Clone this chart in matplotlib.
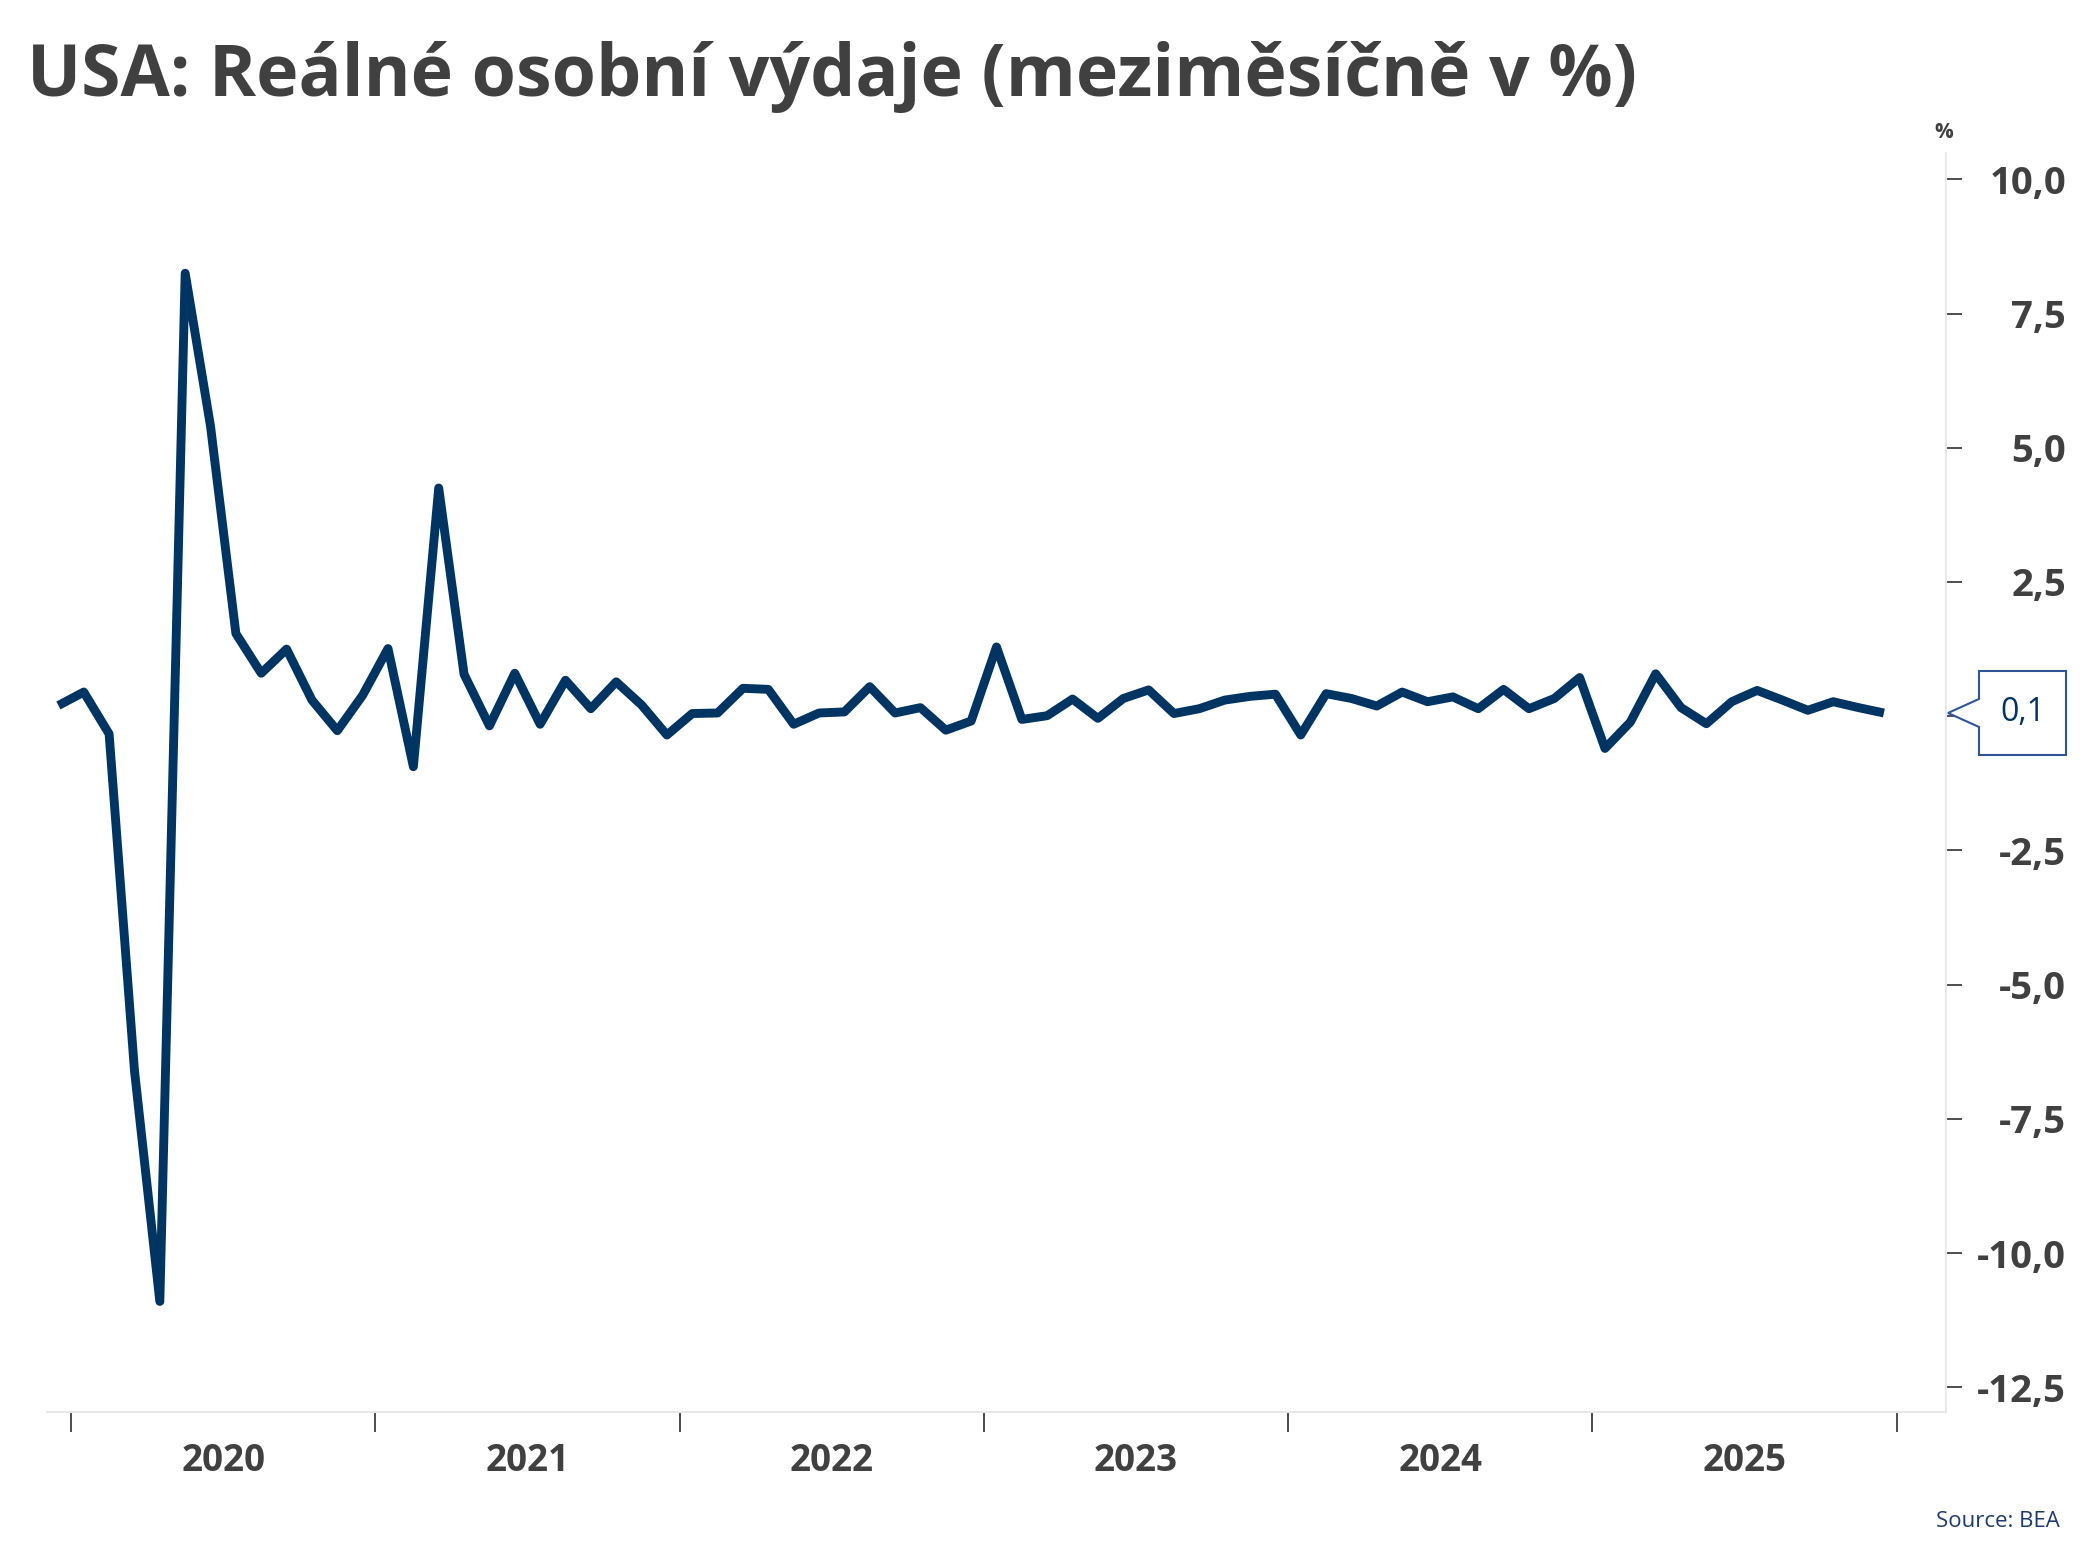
import numpy as np
import matplotlib.pyplot as plt
from matplotlib.patches import Polygon
from matplotlib.transforms import IdentityTransform
from matplotlib.ticker import FixedLocator, FuncFormatter

# monthly change of real personal spending, Dec 2019 .. Dec 2025 (%)
dec_2019 = [0.2]
y2020 = [0.45, -0.33, -6.6, -10.9, 8.25, 5.4, 1.54, 0.80, 1.25, 0.30, -0.27, 0.39]
y2021 = [1.26, -0.94, 4.25, 0.78, -0.18, 0.80, -0.15, 0.67, 0.14, 0.64, 0.21, -0.35]
y2022 = [0.05, 0.06, 0.52, 0.50, -0.15, 0.06, 0.08, 0.55, 0.06, 0.16, -0.26, -0.09]
y2023 = [1.29, -0.06, 0.01, 0.32, -0.04, 0.33, 0.49, 0.05, 0.14, 0.30, 0.37, 0.41]
y2024 = [-0.35, 0.42, 0.33, 0.19, 0.45, 0.27, 0.36, 0.14, 0.50, 0.14, 0.33, 0.72]
y2025 = [-0.60, -0.11, 0.79, 0.16, -0.14, 0.27, 0.48, 0.30, 0.11, 0.27, 0.16, 0.06]
years = ['2020', '2021', '2022', '2023', '2024', '2025']
y_ticks = [-12.5, -10.0, -7.5, -5.0, -2.5, 0.0, 2.5, 5.0, 7.5, 10.0]

values = np.array(dec_2019 + y2020 + y2021 + y2022 + y2023 + y2024 + y2025)
x = np.arange(len(values))  # 0 = Dec 2019

DPI = 100
W, H = 2093, 1568
navy = '#003462'
grey = '#404040'
plt.rcParams['font.family'] = ['Open Sans', 'DejaVu Sans']

fig = plt.figure(figsize=(W / DPI, H / DPI), dpi=DPI)
ax = fig.add_axes([47 / W, 1 - 1411.5 / H, (1946 - 47) / W, (1411.5 - 153) / H])

ax.plot(x, values, color=navy, lw=6.4, solid_joinstyle='round', solid_capstyle='butt')

ax.set_xlim(-0.45, 74.45)
ax.set_ylim(-12.95, 10.49)

# spines
for s in ['top', 'left']:
    ax.spines[s].set_visible(False)
for s in ['right', 'bottom']:
    ax.spines[s].set_color('#e8e8e8')
    ax.spines[s].set_linewidth(1.5)


def y_fmt(v, p):
    # the zero label sits under the value callout
    if abs(v) < 1e-9:
        return ''
    return f"{v:.1f}".replace('.', ',')


# y axis on the right
ax.yaxis.tick_right()
ax.yaxis.set_major_locator(FixedLocator(y_ticks))
ax.yaxis.set_major_formatter(FuncFormatter(y_fmt))
ax.tick_params(axis='y', direction='out', length=11.5, width=1.3, color=grey,
               pad=75, labelsize=27.5, labelcolor=grey)
for lab in ax.get_yticklabels():
    lab.set_horizontalalignment('right')
    lab.set_fontweight('bold')

# x axis: year boundaries as ticks, labels centred within years
n_years = len(years)
ax.xaxis.set_major_locator(FixedLocator([0.5 + 12 * i for i in range(n_years + 1)]))
ax.xaxis.set_major_formatter(FuncFormatter(lambda v, p: ''))
ax.xaxis.set_minor_locator(FixedLocator([6.5 + 12 * i for i in range(n_years)]))
ax.xaxis.set_minor_formatter(FuncFormatter(lambda v, p: years[int((v - 6.5) // 12)]))
ax.tick_params(axis='x', which='major', direction='out', length=14.5, width=1.3, color=grey)
ax.tick_params(axis='x', which='minor', length=0, pad=22, labelsize=26.5, labelcolor=grey)
for lab in ax.get_xticklabels(minor=True):
    lab.set_fontweight('bold')

# title, unit, source
fig.text(27 / W, 1 - 96 / H, 'USA: Reálné osobní výdaje (meziměsíčně v %)',
         fontsize=51.5, fontweight='bold', color=grey, ha='left', va='baseline')
fig.text(1944 / W, 1 - 132 / H, '%', fontsize=15, fontweight='bold', color=grey,
         ha='center', va='center')
fig.text(2060 / W, 1 - 1527 / H, 'Source: BEA', fontsize=16, color='#1f3a6e',
         ha='right', va='baseline')

# callout with last value
fig.canvas.draw()
last = values[-1]
ax_x, ay = ax.transData.transform((x[-1], last))
sx = ax.transAxes.transform((1.0, 0.0))[0]
verts = [(sx + 2, ay), (sx + 33, ay + 14), (sx + 33, ay + 42), (sx + 120, ay + 42),
         (sx + 120, ay - 42), (sx + 33, ay - 42), (sx + 33, ay - 14)]
fig.patches.append(Polygon(verts, closed=True, facecolor='white', edgecolor='#2f5597',
                           lw=1.5, transform=IdentityTransform(), figure=fig))
fig.text((sx + 76.5) / W, ay / H, f"{last:.1f}".replace('.', ','), fontsize=23,
         color=navy, ha='center', va='center')

fig.savefig('out.png', dpi=DPI, facecolor='white')
